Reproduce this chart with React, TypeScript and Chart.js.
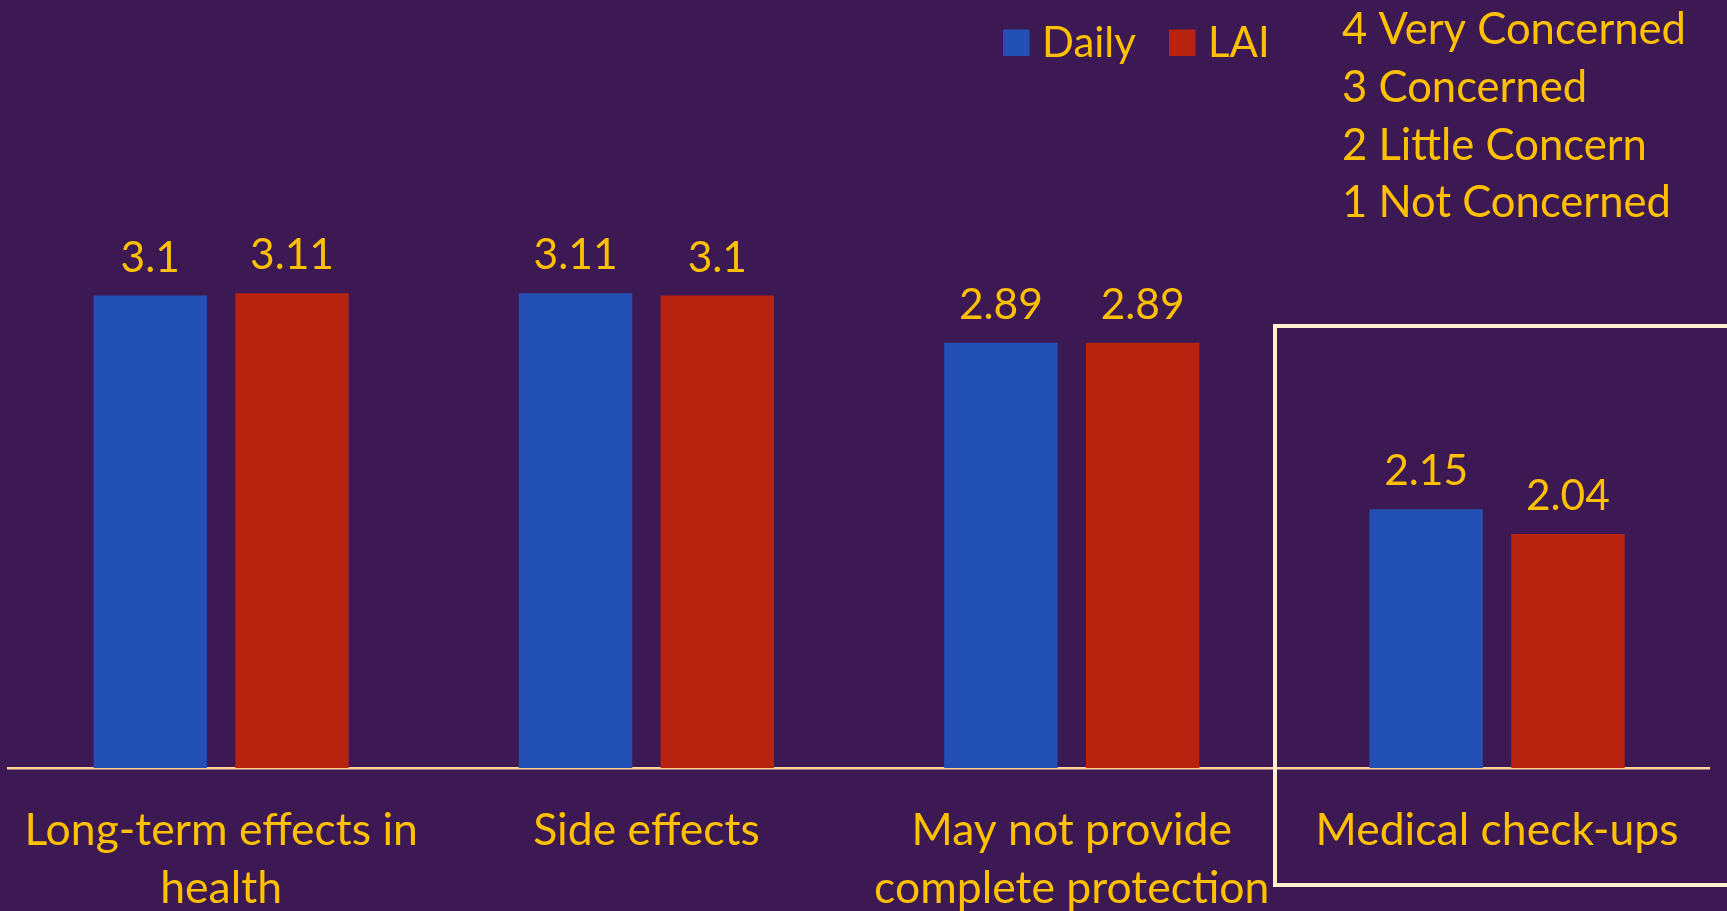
import React, { useEffect, useRef } from "react";
import { Chart, registerables } from "chart.js";

Chart.register(...registerables);

// Concern items (multi-line category labels)
const categories: string[][] = [
  ["Long-term effects in", "health"],
  ["Side effects"],
  ["May not provide", "complete protection"],
  ["Medical check-ups"],
];

// Mean concern score per item
const dailyValues = [3.1, 3.11, 2.89, 2.15];
const laiValues = [3.11, 3.1, 2.89, 2.04];

// Rating scale shown at the top right
const scaleKey = ["4 Very Concerned", "3 Concerned", "2 Little Concern", "1 Not Concerned"];

const BG = "#3C1953";
const GOLD = "#FFC000";
const BLUE = "#2350B4";
const RED = "#B8230F";
const AXIS = "#FFD6A0";
const BOX = "#FFF2CC";
const FONT = "Lato";

const overlayPlugin = {
  id: "overlayText",
  afterDatasetsDraw(chart: any) {
    const ctx = chart.ctx;
    ctx.save();
    ctx.fillStyle = GOLD;
    ctx.font = `42.5px ${FONT}`;
    ctx.textAlign = "center";
    ctx.textBaseline = "alphabetic";
    chart.data.datasets.forEach((ds: any, di: number) => {
      const meta = chart.getDatasetMeta(di);
      meta.data.forEach((bar: any, i: number) => {
        ctx.fillText(String(ds.data[i]), bar.x, bar.y - 24);
      });
    });
    ctx.restore();
  },
  afterDraw(chart: any) {
    const ctx = chart.ctx;
    ctx.save();
    // legend
    const legendX = [1003, 1169];
    ctx.font = `42px ${FONT}`;
    ctx.textAlign = "left";
    ctx.textBaseline = "alphabetic";
    chart.data.datasets.forEach((ds: any, di: number) => {
      const x = legendX[di];
      ctx.fillStyle = ds.backgroundColor;
      ctx.fillRect(x, 29.5, 26.5, 26.5);
      ctx.fillStyle = GOLD;
      ctx.fillText(ds.label, x + 39, 56.5);
    });
    // rating key
    ctx.font = `43.6px ${FONT}`;
    scaleKey.forEach((line, i) => {
      ctx.fillText(line, 1342, 44.3 + i * 57.7);
    });
    ctx.restore();
  },
};

export default function App() {
  const canvasRef = useRef<HTMLCanvasElement | null>(null);

  useEffect(() => {
    if (!canvasRef.current) return;
    const chart = new Chart(canvasRef.current, {
      type: "bar",
      data: {
        labels: categories,
        datasets: [
          { label: "Daily", data: dailyValues, backgroundColor: BLUE, borderWidth: 0 },
          { label: "LAI", data: laiValues, backgroundColor: RED, borderWidth: 0 },
        ],
      },
      options: {
        responsive: false,
        animation: false,
        events: [],
        categoryPercentage: 2 / 3,
        barPercentage: 0.8,
        layout: { padding: { left: 8.5, right: 17.3, top: 93, bottom: 0 } },
        plugins: {
          legend: { display: false },
          tooltip: { enabled: false },
        },
        scales: {
          x: {
            grid: { display: false, drawTicks: false },
            border: { display: true, color: AXIS, width: 2.5 },
            ticks: {
              color: GOLD,
              maxRotation: 0,
              autoSkip: false,
              padding: 33,
              font: { family: FONT, size: 44.5, lineHeight: "58.5px" },
            },
            afterFit: (scale: any) => {
              scale.height = 143;
              scale.paddingLeft = 0;
              scale.paddingRight = 0;
            },
          },
          y: {
            display: false,
            min: 1,
            max: 4,
          },
        },
      },
      plugins: [overlayPlugin],
    });
    return () => chart.destroy();
  }, []);

  return (
    <div
      style={{
        position: "fixed",
        left: 0,
        top: 0,
        width: 1727,
        height: 911,
        overflow: "hidden",
        background: BG,
      }}
    >
      <canvas ref={canvasRef} width={1727} height={911} style={{ display: "block" }} />
      <div
        style={{
          position: "absolute",
          left: 1273,
          top: 324,
          width: 520,
          height: 563,
          boxSizing: "border-box",
          border: `4px solid ${BOX}`,
          pointerEvents: "none",
        }}
      />
    </div>
  );
}
